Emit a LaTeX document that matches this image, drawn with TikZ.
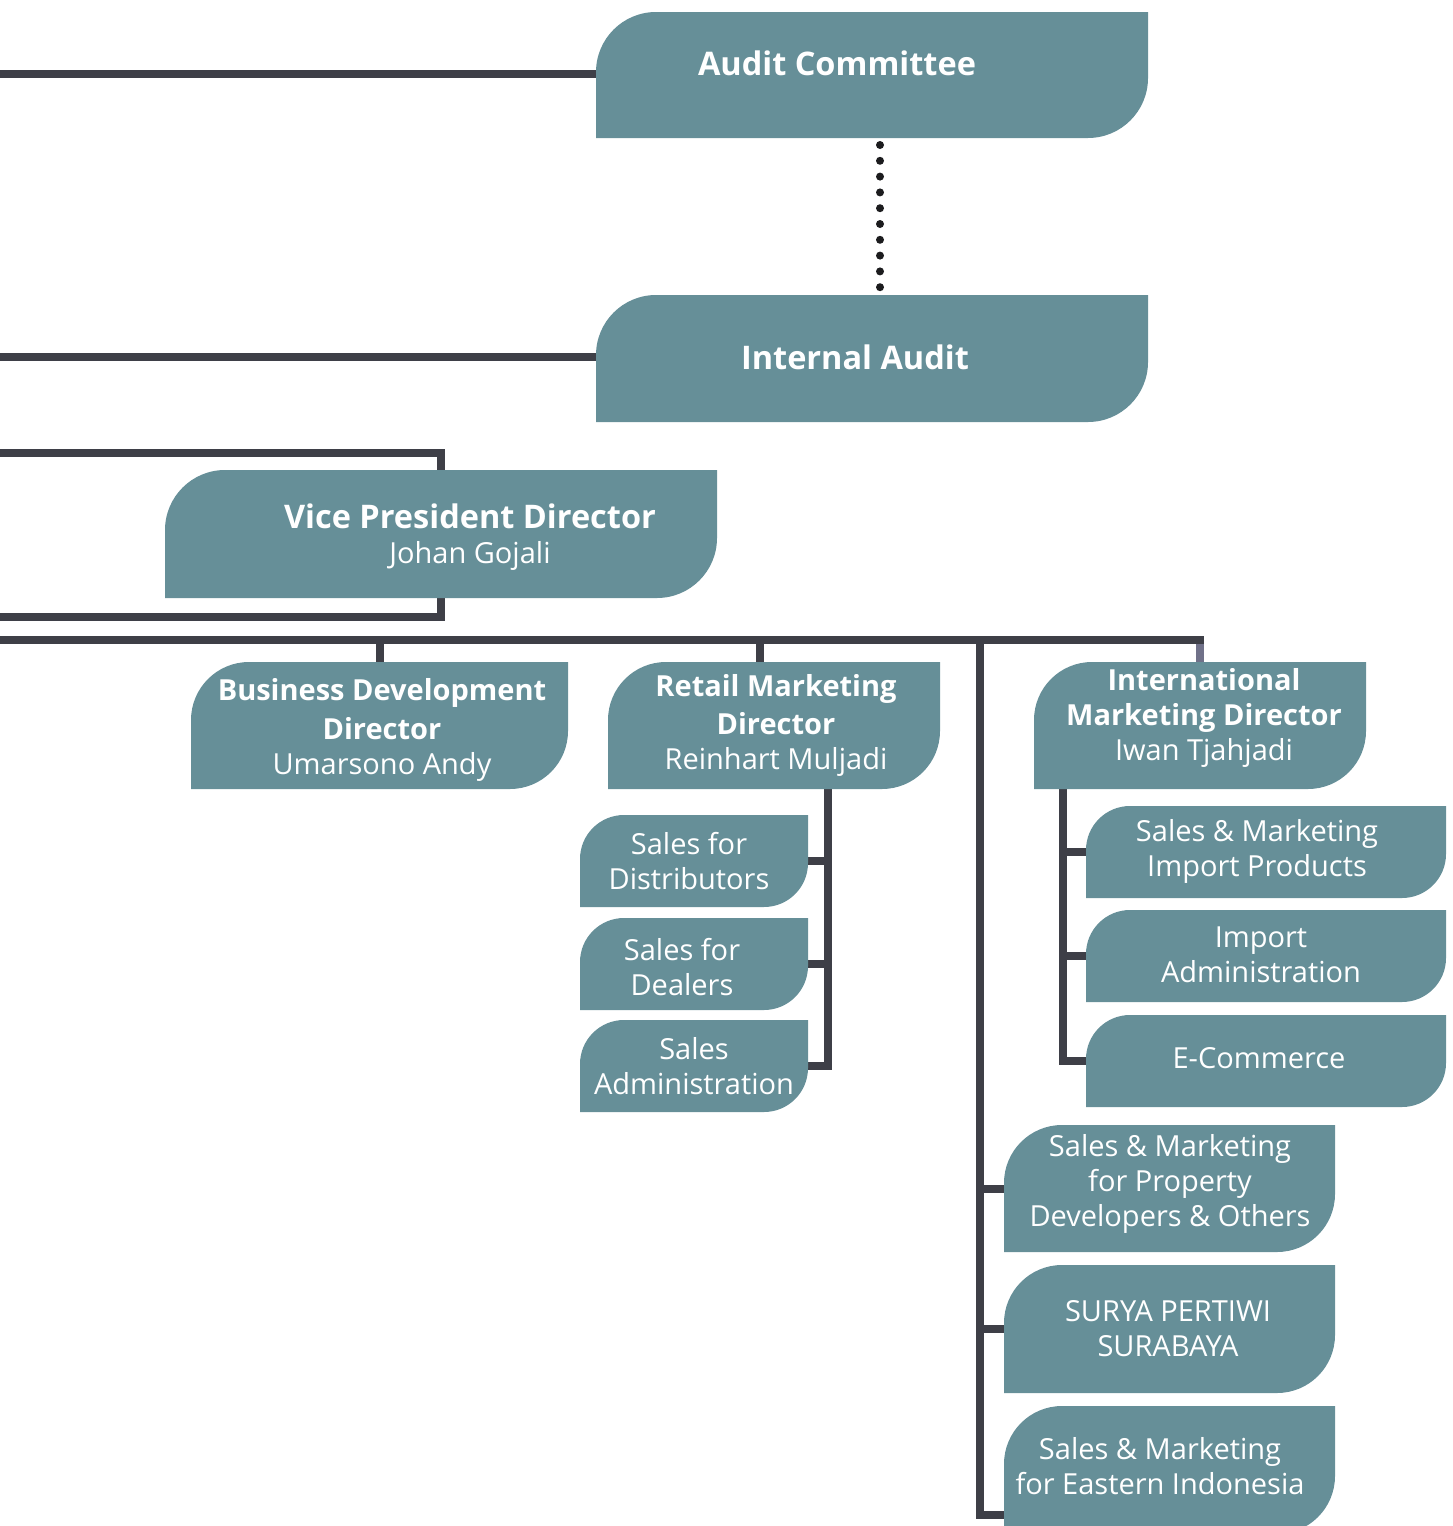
\documentclass[tikz,border=0pt]{standalone}
\usepackage{fontspec}
\setmainfont{Open Sans}
\usetikzlibrary{backgrounds}
\definecolor{boxteal}{HTML}{668F98}
\definecolor{linegrey}{HTML}{3E3F47}
\definecolor{dropgrey}{HTML}{707189}
\definecolor{dotblack}{HTML}{1C1C1E}
\tikzset{
  orgline/.style={line width=8pt, draw=linegrey},
  dotline/.style={line width=8pt, draw=dotblack, line cap=round, dash pattern=on 0pt off 15.8pt},
  boxarea/.style={inner sep=0pt, outer sep=0pt},
  boxtext/.style={text=white, align=center, inner sep=0pt, font=\fontsize{29}{35}\selectfont},
}
\newcommand{\bigtitle}{\fontsize{32.5}{36}\selectfont\bfseries}
% leaf box: name, x1, y1, x2, y2, corner radius
\newcommand{\leafbox}[6]{%
  \fill[boxteal] (#2,#5) -- (#2,{#3+#6})
    .. controls (#2,{#3+0.448*#6}) and ({#2+0.448*#6},#3) .. ({#2+#6},#3)
    -- (#4,#3) -- (#4,{#5-#6})
    .. controls (#4,{#5-0.448*#6}) and ({#4-0.448*#6},#5) .. ({#4-#6},#5) -- cycle;
  \node[boxarea, minimum width={(#4-#2)*1pt}, minimum height={(#5-#3)*1pt}] (#1) at ({(#2+#4)/2},{(#3+#5)/2}) {};
}
\begin{document}
\begin{tikzpicture}[x=1pt, y=-1pt]
\useasboundingbox (0,0) rectangle (1453,1526);
\clip (0,0) rectangle (1453,1526);

% boxes
\leafbox{ac}{596}{12}{1148}{138}{60}
\leafbox{ia}{596}{295}{1148}{422}{60}
\leafbox{vp}{165}{470}{717}{598}{60}
\leafbox{bd}{191}{662}{568}{789}{58}
\leafbox{rm}{608}{662}{940}{789}{58}
\leafbox{im}{1034}{662}{1366}{789}{58}
\leafbox{sd}{580}{815}{808}{907}{44}
\leafbox{sdl}{580}{918}{808}{1010}{44}
\leafbox{sa}{580}{1020}{808}{1112}{44}
\leafbox{smi}{1086}{806}{1446}{898}{44}
\leafbox{iad}{1086}{910}{1446}{1002}{44}
\leafbox{ec}{1086}{1015}{1446}{1107}{44}
\leafbox{spd}{1004}{1125}{1335}{1252}{58}
\leafbox{sps}{1004}{1265}{1335}{1393}{58}
\leafbox{sme}{1004}{1406}{1335}{1534}{58}

% texts
\node[boxtext] (ac-t) at (837,63) {\bigtitle Audit Committee};
\node[boxtext] (ia-t) at (855,357) {\bigtitle Internal Audit};
\node[boxtext] (vp-t) at (470,537) {{\bigtitle Vice President Director}\\Johan Gojali};
\node[boxtext] (bd-t) at (382,730) {\bfseries Business Development\\[4pt]\bfseries Director\\Umarsono Andy};
\node[boxtext] (rm-t) at (776,725) {\bfseries Retail Marketing\\[3pt]\bfseries Director\\Reinhart Muljadi};
\node[boxtext] (im-t) at (1204,718) {\bfseries International\\\bfseries Marketing Director\\Iwan Tjahjadi};
\node[boxtext] (sd-t) at (689,861) {Sales for\\Distributors};
\node[boxtext] (sdl-t) at (682,967) {Sales for\\Dealers};
\node[boxtext] (sa-t) at (694,1066) {Sales\\Administration};
\node[boxtext] (smi-t) at (1257,851) {Sales \& Marketing\\Import Products};
\node[boxtext] (iad-t) at (1261,955) {Import\\Administration};
\node[boxtext] (ec-t) at (1259,1058) {E-Commerce};
\node[boxtext] (spd-t) at (1170,1184) {Sales \& Marketing\\for Property\\Developers \& Others};
\node[boxtext] (sps-t) at (1168,1329) {SURYA PERTIWI\\SURABAYA};
\node[boxtext] (sme-t) at (1160,1466) {Sales \& Marketing\\for Eastern Indonesia};

% connectors
\coordinate (acin) at (0,74);
\coordinate (iain) at (0,357);
\coordinate (vptop) at (0,453);
\coordinate (vpbot) at (0,617);
\coordinate (vpx) at (441,0);
\coordinate (busl) at (0,640);
\coordinate (rmdrop) at (760,0);
\coordinate (spine) at (980,0);
\coordinate (smeb) at (0,1515);
\coordinate (rmv) at (828,0);
\coordinate (imv) at (1063,0);
\coordinate (dotx) at (880,0);

\begin{scope}[on background layer]
\draw[orgline] (acin) -- (acin -| ac.west);
\draw[orgline] (iain) -- (iain -| ia.west);
\draw[orgline] (vptop) -- (vptop -| vpx) -- (vpbot -| vpx) -- (vpbot);
\draw[line width=8pt, draw=dropgrey] (busl -| im.north) -- (im.north);
\draw[orgline, line cap=rect] (busl) -- (busl -| im.north);
\draw[orgline] (busl -| bd.north) -- (bd.north);
\draw[orgline] (busl -| rmdrop) -- (rm.north -| rmdrop);
\draw[orgline] (busl -| spine) -- (smeb -| spine) -- (smeb -| sme.west);
\draw[orgline] (spd.west -| spine) -- (spd.west);
\draw[orgline] (sps.west -| spine) -- (sps.west);
\draw[orgline] (rm.south -| rmv) -- (sa.east -| rmv) -- (sa.east);
\draw[orgline] (sd.east -| rmv) -- (sd.east);
\draw[orgline] (sdl.east -| rmv) -- (sdl.east);
\draw[orgline] (im.south -| imv) -- (ec.west -| imv) -- (ec.west);
\draw[orgline] (smi.west -| imv) -- (smi.west);
\draw[orgline] (iad.west -| imv) -- (iad.west);
\end{scope}
\draw[dotline, shorten <=7pt, shorten >=7pt] (ac.south -| dotx) -- (ia.north -| dotx);
\end{tikzpicture}
\end{document}
